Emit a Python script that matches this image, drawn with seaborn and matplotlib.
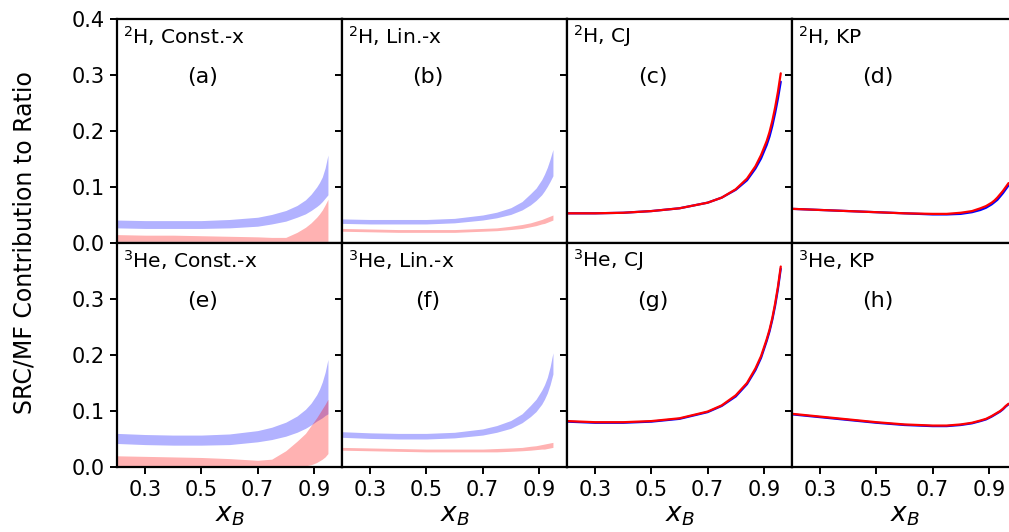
import numpy as np
import pandas as pd
import matplotlib
matplotlib.use("Agg")
import matplotlib.pyplot as plt
import seaborn as sns

# x_B grids
x_band = [0.20, 0.30, 0.40, 0.50, 0.60, 0.70, 0.75, 0.80, 0.84, 0.87, 0.89, 0.91, 0.92, 0.93, 0.94, 0.95]
x_cj = x_band + [0.96]
x_kp = x_band + [0.96, 0.97]

# (a) 2H, Const.-x : SRC (blue) and MF (red) bands
a_blue_hi = [0.041, 0.040, 0.040, 0.040, 0.042, 0.046, 0.051, 0.058, 0.067, 0.077, 0.087, 0.100, 0.108, 0.118, 0.134, 0.157]
a_blue_lo = [0.027, 0.026, 0.026, 0.026, 0.027, 0.030, 0.034, 0.039, 0.046, 0.052, 0.058, 0.065, 0.069, 0.074, 0.080, 0.086]
a_red_hi = [0.015, 0.014, 0.014, 0.013, 0.012, 0.011, 0.010, 0.010, 0.019, 0.028, 0.036, 0.046, 0.052, 0.059, 0.068, 0.078]
a_red_lo = [0.003] * 16

# (b) 2H, Lin.-x
b_blue_hi = [0.043, 0.042, 0.042, 0.042, 0.044, 0.050, 0.055, 0.063, 0.074, 0.088, 0.098, 0.113, 0.123, 0.135, 0.150, 0.167]
b_blue_lo = [0.035, 0.034, 0.034, 0.034, 0.036, 0.041, 0.045, 0.051, 0.059, 0.068, 0.076, 0.086, 0.093, 0.101, 0.110, 0.120]
b_red_hi = [0.026, 0.025, 0.024, 0.024, 0.024, 0.026, 0.027, 0.030, 0.033, 0.036, 0.039, 0.042, 0.044, 0.046, 0.048, 0.050]
b_red_lo = [0.021, 0.020, 0.019, 0.019, 0.019, 0.021, 0.022, 0.024, 0.026, 0.029, 0.031, 0.034, 0.035, 0.037, 0.039, 0.041]

# (e) 3He, Const.-x
e_blue_hi = [0.060, 0.058, 0.057, 0.057, 0.059, 0.065, 0.071, 0.080, 0.091, 0.103, 0.114, 0.129, 0.139, 0.152, 0.169, 0.192]
e_blue_lo = [0.042, 0.040, 0.039, 0.039, 0.040, 0.045, 0.049, 0.055, 0.062, 0.069, 0.075, 0.082, 0.085, 0.088, 0.092, 0.095]
e_red_hi = [0.020, 0.019, 0.018, 0.017, 0.015, 0.012, 0.014, 0.029, 0.046, 0.060, 0.074, 0.088, 0.096, 0.104, 0.112, 0.121]
e_red_lo = [0.0, 0.0, 0.0, 0.0, 0.0, 0.0, 0.0, 0.0, 0.0, 0.002, 0.004, 0.008, 0.011, 0.014, 0.018, 0.024]

# (f) 3He, Lin.-x
f_blue_hi = [0.063, 0.061, 0.060, 0.060, 0.062, 0.068, 0.074, 0.083, 0.095, 0.110, 0.121, 0.137, 0.147, 0.160, 0.179, 0.204]
f_blue_lo = [0.053, 0.051, 0.050, 0.050, 0.052, 0.057, 0.062, 0.069, 0.079, 0.090, 0.099, 0.112, 0.121, 0.132, 0.147, 0.166]
f_red_hi = [0.035, 0.034, 0.033, 0.032, 0.032, 0.032, 0.033, 0.034, 0.035, 0.037, 0.038, 0.040, 0.041, 0.042, 0.043, 0.044]
f_red_lo = [0.030, 0.029, 0.028, 0.027, 0.027, 0.027, 0.027, 0.028, 0.029, 0.030, 0.031, 0.032, 0.032, 0.033, 0.034, 0.035]

# (c) 2H, CJ
c_blue = [0.053, 0.053, 0.054, 0.057, 0.062, 0.072, 0.081, 0.095, 0.112, 0.133, 0.151, 0.175, 0.190, 0.209, 0.232, 0.258, 0.288]
c_red = [0.053, 0.053, 0.054, 0.057, 0.062, 0.072, 0.081, 0.096, 0.115, 0.137, 0.157, 0.182, 0.198, 0.218, 0.242, 0.270, 0.303]
# (d) 2H, KP
d_blue = [0.061, 0.059, 0.057, 0.055, 0.053, 0.051, 0.051, 0.052, 0.055, 0.059, 0.063, 0.069, 0.073, 0.077, 0.083, 0.089, 0.096, 0.103]
d_red = [0.061, 0.059, 0.057, 0.055, 0.053, 0.052, 0.052, 0.054, 0.057, 0.062, 0.066, 0.072, 0.076, 0.081, 0.087, 0.093, 0.100, 0.107]
# (g) 3He, CJ
g_blue = [0.081, 0.079, 0.079, 0.081, 0.086, 0.098, 0.109, 0.126, 0.148, 0.173, 0.195, 0.225, 0.242, 0.263, 0.288, 0.318, 0.354]
g_red = [0.082, 0.080, 0.080, 0.082, 0.087, 0.099, 0.110, 0.128, 0.150, 0.176, 0.198, 0.228, 0.245, 0.266, 0.292, 0.322, 0.358]
# (h) 3He, KP
h_blue = [0.094, 0.089, 0.084, 0.079, 0.075, 0.073, 0.073, 0.075, 0.078, 0.082, 0.085, 0.090, 0.093, 0.096, 0.099, 0.103, 0.108, 0.112]
h_red = [0.095, 0.090, 0.085, 0.080, 0.076, 0.074, 0.074, 0.076, 0.079, 0.083, 0.086, 0.091, 0.094, 0.097, 0.100, 0.104, 0.109, 0.113]

titles = [r"$^{2}$H, Const.-x", r"$^{2}$H, Lin.-x", r"$^{2}$H, CJ", r"$^{2}$H, KP",
          r"$^{3}$He, Const.-x", r"$^{3}$He, Lin.-x", r"$^{3}$He, CJ", r"$^{3}$He, KP"]
tags = ["(a)", "(b)", "(c)", "(d)", "(e)", "(f)", "(g)", "(h)"]
xticks = [0.3, 0.5, 0.7, 0.9]
yticks_top = [0.0, 0.1, 0.2, 0.3, 0.4]
yticks_bot = [0.0, 0.1, 0.2, 0.3]

sns.set_style("ticks")
plt.rcParams["font.family"] = ["DejaVu Sans"]
plt.rcParams["mathtext.fontset"] = "dejavusans"
plt.rcParams["text.color"] = "black"
plt.rcParams["axes.labelcolor"] = "black"
plt.rcParams["xtick.color"] = "black"
plt.rcParams["ytick.color"] = "black"

W, H = 1009, 532
fig = plt.figure(figsize=(W / 100, H / 100), dpi=100)

left_px, pw = 117, 225
rows_px = [(19, 243), (243, 467)]
axes = []
for r, (t, b) in enumerate(rows_px):
    row = []
    for c in range(4):
        ax = fig.add_axes([(left_px + c * pw) / W, (H - b) / H, pw / W, (b - t) / H])
        row.append(ax)
    axes.append(row)

blue_band = dict(color="blue", alpha=0.3, lw=0)
red_band = dict(color="red", alpha=0.3, lw=0)

bands = {
    (0, 0): (a_blue_lo, a_blue_hi, a_red_lo, a_red_hi),
    (0, 1): (b_blue_lo, b_blue_hi, b_red_lo, b_red_hi),
    (1, 0): (e_blue_lo, e_blue_hi, e_red_lo, e_red_hi),
    (1, 1): (f_blue_lo, f_blue_hi, f_red_lo, f_red_hi),
}
lines = {
    (0, 2): (x_cj, c_blue, c_red),
    (0, 3): (x_kp, d_blue, d_red),
    (1, 2): (x_cj, g_blue, g_red),
    (1, 3): (x_kp, h_blue, h_red),
}

for (r, c), (blo, bhi, rlo, rhi) in bands.items():
    ax = axes[r][c]
    ax.fill_between(x_band, blo, bhi, **blue_band)
    ax.fill_between(x_band, rlo, rhi, **red_band)

for (r, c), (xs, yb, yr) in lines.items():
    ax = axes[r][c]
    df = pd.DataFrame({"x": xs, "blue": yb, "red": yr})
    sns.lineplot(data=df, x="x", y="blue", ax=ax, color="blue", lw=1.6, sort=False)
    sns.lineplot(data=df, x="x", y="red", ax=ax, color="red", lw=1.6, sort=False)

for r in range(2):
    for c in range(4):
        ax = axes[r][c]
        i = r * 4 + c
        ax.set_xlim(0.2, 1.0)
        ax.set_ylim(0.0, 0.4)
        for s in ax.spines.values():
            s.set_visible(True)
            s.set_linewidth(1.6)
            s.set_color("black")
        ax.set_xticks(xticks)
        ax.set_yticks(yticks_top if r == 0 else yticks_bot)
        ax.tick_params(axis="both", direction="out", length=5, width=1.4,
                       labelsize=15, colors="black", pad=4)
        ax.tick_params(axis="y", left=True, right=False)
        if c > 0:
            ax.set_yticklabels([])
        else:
            ax.set_yticklabels([f"{v:.1f}" for v in (yticks_top if r == 0 else yticks_bot)])
        if r == 0:
            ax.tick_params(axis="x", bottom=False, labelbottom=False)
            ax.set_xlabel("")
        else:
            ax.set_xticklabels([f"{v:.1f}" for v in xticks])
            ax.set_xlabel(r"$x_B$", fontsize=19, labelpad=2, color="black")
        ax.set_ylabel("")
        ax.text(0.025, 0.925, titles[i], transform=ax.transAxes, fontsize=14.5,
                ha="left", va="center", color="black")
        ax.text(0.38, 0.74, tags[i], transform=ax.transAxes, fontsize=16,
                ha="center", va="center", color="black")

fig.text(25 / W, (H - 243) / H, "SRC/MF Contribution to Ratio", rotation=90,
         fontsize=17, ha="center", va="center", color="black")

fig.savefig("out.png", dpi=100)
